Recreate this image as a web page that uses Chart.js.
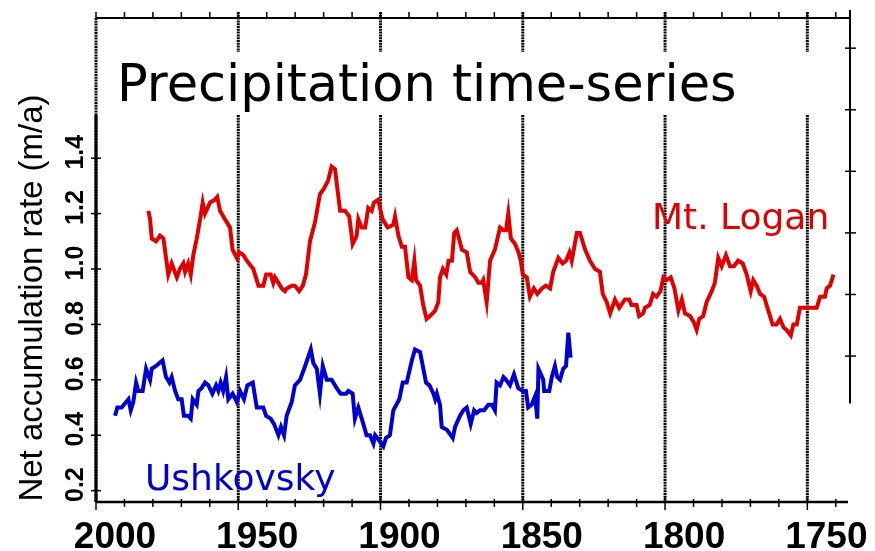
<!DOCTYPE html>
<html>
<head>
<meta charset="utf-8">
<script src="https://cdn.jsdelivr.net/npm/chart.js@4.4.1/dist/chart.umd.min.js"></script>
<style>
  html, body { margin: 0; padding: 0; background: #fff; }
  canvas { display: block; }
</style>
</head>
<body>
<canvas id="chart" width="875" height="551"></canvas>
<script>
// Mt. Logan (red) - year, net accumulation (m/a)
const loganYears = [1981.6,1981.0,1980.4,1978.9,1977.5,1976.3,1974.6,1973.4,1971.6,1970.5,1969.3,1968.7,1967.6,1966.7,1965.8,1964.6,1963.4,1962.5,1961.7,1959.9,1958.2,1957.4,1956.4,1954.7,1952.9,1952.0,1950.5,1949.6,1948.2,1947.0,1944.7,1942.9,1941.2,1940.2,1938.6,1937.7,1937.1,1934.7,1933.6,1933.0,1931.2,1930.1,1928.6,1927.3,1926.2,1924.8,1923.0,1921.3,1919.9,1918.4,1917.2,1916.0,1914.2,1912.5,1911.0,1909.8,1908.4,1907.8,1906.6,1905.4,1904.3,1903.1,1902.3,1900.8,1899.3,1897.5,1895.5,1894.9,1893.7,1892.5,1891.4,1890.2,1889.0,1888.1,1887.5,1886.1,1885.0,1883.8,1882.6,1880.8,1879.7,1879.1,1878.1,1876.9,1876.1,1874.9,1874.1,1873.2,1871.4,1869.7,1868.5,1866.7,1865.6,1864.4,1863.9,1862.7,1861.5,1859.8,1858.0,1856.8,1855.9,1855.1,1854.2,1852.7,1851.5,1850.7,1850.0,1848.6,1847.5,1846.1,1844.9,1843.3,1841.9,1840.4,1839.3,1837.5,1836.0,1834.8,1833.6,1832.8,1831.0,1829.9,1828.1,1826.4,1824.6,1822.9,1821.9,1820.5,1819.3,1817.6,1816.1,1814.1,1812.6,1811.8,1810.0,1809.1,1807.7,1807.1,1805.4,1804.2,1803.0,1801.6,1800.6,1799.5,1798.0,1796.7,1795.3,1794.1,1793.0,1791.2,1790.0,1788.9,1788.0,1786.6,1785.4,1783.6,1782.5,1781.3,1780.1,1778.6,1777.2,1775.8,1774.3,1772.7,1771.3,1769.9,1769.0,1767.8,1766.6,1765.2,1763.7,1762.2,1760.8,1759.6,1758.4,1757.3,1755.8,1754.9,1753.7,1752.6,1750.8,1749.1,1746.7,1745.5,1743.8,1743.2,1742.0,1740.8];
const loganValues = [1.21,1.18,1.11,1.10,1.12,1.11,0.98,1.02,0.97,1.00,1.02,0.99,1.02,0.98,1.05,1.11,1.18,1.24,1.20,1.24,1.25,1.26,1.21,1.18,1.15,1.07,1.04,1.06,1.05,1.03,1.00,0.94,0.94,0.98,0.98,0.95,0.97,0.93,0.92,0.93,0.94,0.94,0.92,0.94,0.98,1.10,1.17,1.27,1.29,1.32,1.37,1.36,1.21,1.21,1.19,1.09,1.12,1.18,1.15,1.15,1.22,1.21,1.24,1.25,1.18,1.15,1.16,1.19,1.12,1.08,1.08,0.97,0.96,1.03,0.96,0.94,0.87,0.82,0.83,0.85,0.88,0.97,1.00,0.98,1.03,1.03,1.13,1.14,1.07,1.06,0.99,0.97,0.95,0.95,0.96,0.88,1.03,1.07,1.15,1.14,1.14,1.20,1.11,1.09,1.06,1.03,0.98,0.97,0.90,0.93,0.91,0.93,0.94,0.93,0.99,1.04,1.02,1.03,1.06,1.03,1.13,1.13,1.07,1.03,1.00,0.99,0.91,0.88,0.84,0.89,0.86,0.89,0.89,0.87,0.87,0.83,0.84,0.86,0.87,0.91,0.90,0.92,0.97,0.96,0.97,0.93,0.85,0.89,0.84,0.83,0.81,0.78,0.82,0.83,0.88,0.92,0.95,1.04,1.01,1.05,1.01,1.01,1.03,1.02,0.98,0.92,0.96,0.94,0.91,0.90,0.85,0.80,0.80,0.82,0.79,0.78,0.76,0.80,0.80,0.86,0.86,0.86,0.86,0.90,0.90,0.93,0.94,0.98];

// Ushkovsky (blue)
const ushYears = [1993.3,1992.5,1991.0,1990.2,1988.6,1987.8,1986.9,1985.9,1985.1,1983.6,1982.4,1981.0,1980.4,1978.9,1977.8,1976.6,1975.4,1974.2,1973.4,1972.2,1971.1,1969.9,1969.1,1967.6,1966.7,1966.0,1964.6,1964.0,1962.9,1961.7,1960.5,1959.1,1957.8,1957.0,1956.2,1955.3,1954.3,1953.5,1952.0,1950.5,1949.4,1948.0,1946.8,1944.9,1943.5,1942.4,1941.2,1940.2,1938.6,1937.4,1935.9,1935.0,1933.9,1933.0,1931.2,1930.1,1928.3,1926.5,1924.5,1923.6,1922.4,1921.3,1920.3,1918.9,1917.2,1915.4,1914.0,1912.1,1911.3,1909.8,1909.0,1907.8,1906.6,1904.9,1903.7,1902.5,1901.9,1900.4,1899.0,1898.1,1896.7,1895.5,1893.4,1892.2,1890.8,1889.0,1887.9,1886.1,1884.0,1882.8,1881.4,1880.8,1880.2,1879.1,1878.5,1876.7,1874.6,1873.8,1872.1,1870.9,1869.7,1868.3,1867.1,1866.2,1865.0,1863.6,1862.1,1860.9,1859.8,1859.2,1858.0,1856.8,1855.9,1854.5,1853.1,1851.6,1850.0,1848.9,1848.1,1846.9,1845.7,1844.9,1844.5,1842.8,1842.5,1840.7,1839.8,1838.7,1837.9,1836.9,1835.8,1834.8,1834.0,1833.2];
const ushValues = [0.47,0.50,0.50,0.51,0.53,0.49,0.52,0.59,0.56,0.56,0.64,0.60,0.64,0.65,0.66,0.67,0.61,0.59,0.61,0.56,0.53,0.53,0.47,0.47,0.46,0.53,0.51,0.56,0.57,0.59,0.58,0.55,0.58,0.56,0.59,0.56,0.61,0.53,0.55,0.52,0.56,0.53,0.58,0.59,0.50,0.50,0.50,0.47,0.46,0.44,0.40,0.43,0.40,0.47,0.52,0.58,0.60,0.65,0.71,0.66,0.64,0.55,0.65,0.60,0.60,0.57,0.55,0.55,0.56,0.55,0.46,0.50,0.46,0.40,0.40,0.37,0.40,0.38,0.36,0.39,0.40,0.49,0.53,0.59,0.59,0.67,0.71,0.70,0.59,0.58,0.55,0.53,0.55,0.51,0.43,0.42,0.39,0.43,0.47,0.49,0.50,0.44,0.49,0.48,0.49,0.49,0.51,0.51,0.49,0.59,0.58,0.61,0.60,0.58,0.62,0.57,0.56,0.56,0.50,0.51,0.54,0.46,0.64,0.60,0.56,0.56,0.61,0.65,0.61,0.60,0.64,0.65,0.77,0.68];

// axis ticks
const xTicks = [2000, 1950, 1900, 1850, 1800, 1750];
const yTicks = [0.2, 0.4, 0.6, 0.8, 1.0, 1.2, 1.4];
const rightTicks = [0, 1, 2, 3, 4, 5];

const toPoints = (xs, ys) => xs.map((x, i) => ({ x, y: ys[i] }));

// frame, ticks and labels drawn by hand
const framePlugin = {
  id: 'frame',
  beforeDatasetsDraw(chart) {
    const { ctx, chartArea: a, scales: { x } } = chart;
    ctx.save();
    ctx.strokeStyle = '#000';
    ctx.lineWidth = 3;
    ctx.setLineDash([2, 0.8]);
    // left edge dotted
    ctx.beginPath();
    ctx.moveTo(a.left, a.top);
    ctx.lineTo(a.left, a.bottom);
    ctx.stroke();
    // vertical grid, broken behind the title
    xTicks.slice(1).forEach(t => {
      const px = x.getPixelForValue(t);
      ctx.beginPath();
      ctx.moveTo(px, a.top - 6);
      ctx.lineTo(px, a.top + 34);
      ctx.moveTo(px, a.top + 97);
      ctx.lineTo(px, a.bottom);
      ctx.stroke();
    });
    ctx.restore();
  },
  afterDraw(chart) {
    const { ctx, chartArea: a, scales: { x, y, y2 } } = chart;
    ctx.save();
    ctx.strokeStyle = '#000';
    ctx.fillStyle = '#000';

    // bottom axis
    ctx.lineWidth = 2.5;
    ctx.beginPath();
    ctx.moveTo(a.left, a.bottom);
    ctx.lineTo(a.right - 2, a.bottom);
    ctx.stroke();
    ctx.lineWidth = 1.5;
    for (let yr = 2000; yr >= 1740; yr -= 10) {
      const px = x.getPixelForValue(yr);
      const major = yr % 50 === 0;
      ctx.beginPath();
      ctx.moveTo(px, a.bottom - (major ? 6 : 3));
      ctx.lineTo(px, a.bottom + (major ? 8 : 5));
      ctx.stroke();
      // top ticks
      ctx.beginPath();
      ctx.moveTo(px, a.top);
      ctx.lineTo(px, a.top - 6);
      ctx.stroke();
    }

    // top line
    ctx.lineWidth = 2;
    ctx.beginPath();
    ctx.moveTo(a.left, a.top);
    ctx.lineTo(a.right, a.top);
    ctx.stroke();

    // left axis
    ctx.lineWidth = 3;
    ctx.beginPath();
    ctx.moveTo(a.left, a.top + 97);
    ctx.lineTo(a.left, a.bottom);
    ctx.stroke();
    ctx.lineWidth = 1.5;
    yTicks.forEach(v => {
      const py = y.getPixelForValue(v);
      ctx.beginPath();
      ctx.moveTo(a.left - 5, py);
      ctx.lineTo(a.left + 5, py);
      ctx.stroke();
    });

    // right axis
    ctx.lineWidth = 2;
    ctx.beginPath();
    ctx.moveTo(a.right, a.top - 8);
    ctx.lineTo(a.right, y2.getPixelForValue(-0.77));
    ctx.stroke();
    ctx.lineWidth = 1.5;
    rightTicks.forEach(v => {
      const py = y2.getPixelForValue(v);
      ctx.beginPath();
      ctx.moveTo(a.right - 5, py);
      ctx.lineTo(a.right + 6, py);
      ctx.stroke();
    });

    // x tick labels
    ctx.font = 'bold 37px "Liberation Sans", Arial, sans-serif';
    ctx.textAlign = 'center';
    ctx.textBaseline = 'alphabetic';
    xTicks.forEach(t => {
      ctx.fillText(String(t), x.getPixelForValue(t) + 19, 548);
    });

    // y tick labels, rotated
    ctx.font = 'bold 25px "Liberation Sans", Arial, sans-serif';
    yTicks.forEach(v => {
      ctx.save();
      ctx.translate(83, y.getPixelForValue(v) - 6);
      ctx.rotate(-Math.PI / 2);
      ctx.fillText(v.toFixed(1), 0, 0);
      ctx.restore();
    });

    // y title
    ctx.save();
    ctx.font = '33px "Liberation Sans", Arial, sans-serif';
    ctx.translate(42, 298);
    ctx.rotate(-Math.PI / 2);
    ctx.fillText('Net accumulation rate (m/a)', 0, 0);
    ctx.restore();

    // title
    ctx.textAlign = 'left';
    ctx.font = '51px "DejaVu Sans", sans-serif';
    ctx.fillText('Precipitation time-series', 117, 101);

    // series labels
    ctx.font = '36px "DejaVu Sans", sans-serif';
    ctx.fillStyle = '#e00000';
    ctx.fillText('Mt. Logan', 652, 229);
    ctx.fillStyle = '#0000d0';
    ctx.fillText('Ushkovsky', 145, 490);

    ctx.restore();
  }
};

new Chart(document.getElementById('chart'), {
  type: 'line',
  data: {
    datasets: [
      {
        label: 'Mt. Logan',
        data: toPoints(loganYears, loganValues),
        borderColor: '#e00000',
        borderWidth: 4,
        pointRadius: 0,
        tension: 0,
        yAxisID: 'y'
      },
      {
        label: 'Ushkovsky',
        data: toPoints(ushYears, ushValues),
        borderColor: '#0000d0',
        borderWidth: 4,
        pointRadius: 0,
        tension: 0,
        yAxisID: 'y'
      }
    ]
  },
  options: {
    responsive: false,
    devicePixelRatio: 1,
    animation: false,
    layout: { padding: { left: 96, top: 18, right: 25, bottom: 49 } },
    plugins: { legend: { display: false }, tooltip: { enabled: false } },
    scales: {
      x: { type: 'linear', reverse: true, min: 1735, max: 2000, display: false },
      y: { min: 0.159, max: 1.906, display: false },
      y2: { position: 'right', min: -2.37, max: 5.49, display: false }
    }
  },
  plugins: [framePlugin]
});
</script>
</body>
</html>
